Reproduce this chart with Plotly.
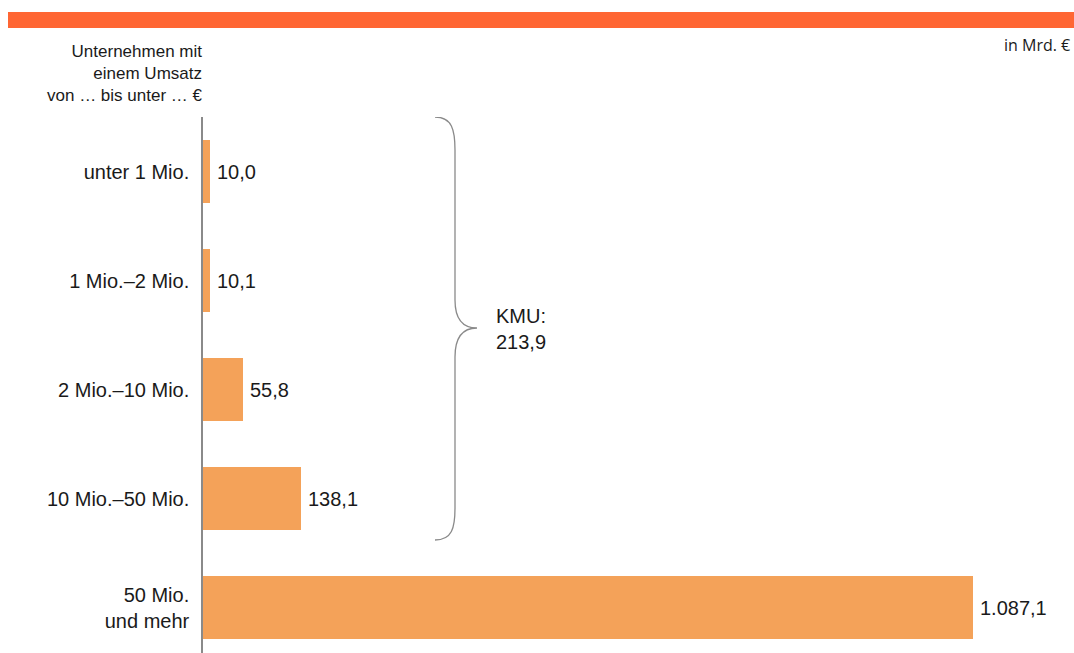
import plotly.graph_objects as go

categories = ["unter 1 Mio.", "1 Mio.–2 Mio.", "2 Mio.–10 Mio.", "10 Mio.–50 Mio.", "50 Mio.<br>und mehr"]
values = [10.0, 10.1, 55.8, 138.1, 1087.1]
kmu_total = 213.9

W, H = 1074, 653
L, T = 203, 117
PX_PER_UNIT = 770 / 1087.1
ROW = 109
XMAX = (W - L) / PX_PER_UNIT
YMAX = (H - T) / ROW - 0.5

BAR = "#F4A259"
HEAD = "#FF6633"
TXT = "#1a1a1a"
FONT = "Liberation Sans, Arial, sans-serif"


def de(v):
    s = f"{v:,.1f}"
    return s.replace(",", "X").replace(".", ",").replace("X", ".")


def px2x(px):
    return (px - L) / PX_PER_UNIT


def py2y(py):
    return (py - T) / ROW - 0.5


ypos = list(range(len(categories)))

fig = go.Figure()
fig.add_trace(go.Bar(
    x=values, y=ypos, orientation="h", width=0.58,
    marker=dict(color=BAR, line=dict(width=0)),
    hoverinfo="skip",
))

annotations = []
for v, y in zip(values, ypos):
    annotations.append(dict(
        x=v, y=y, xref="x", yref="y", text=de(v), showarrow=False,
        xanchor="left", yanchor="middle", xshift=5,
        font=dict(family=FONT, size=20, color=TXT),
    ))

# KMU label
annotations.append(dict(
    x=px2x(494), y=py2y(329), xref="x", yref="y",
    text="KMU:<br>" + de(kmu_total), showarrow=False, align="left",
    xanchor="left", yanchor="middle",
    font=dict(family=FONT, size=20, color=TXT),
))

# header left
annotations.append(dict(
    x=(205 - L) / (W - L), y=1 + (T - 73) / (H - T), xref="paper", yref="paper",
    text="Unternehmen mit<br>einem Umsatz<br>von … bis unter … €",
    showarrow=False, align="right", xanchor="right", yanchor="middle",
    font=dict(family=FONT, size=17, color=TXT),
))

# unit label
annotations.append(dict(
    x=(1072 - L) / (W - L), y=1 + (T - 45) / (H - T), xref="paper", yref="paper",
    text="in Mrd. €", showarrow=False, xanchor="right", yanchor="middle",
    font=dict(family="Open Sans, sans-serif", size=16, color=TXT),
))

# brace path (data coords)
def P(px, py):
    return f"{px2x(px)},{py2y(py)}"

brace = (
    f"M {P(435,117)} "
    f"C {P(452,117)} {P(455,130)} {P(455,150)} "
    f"L {P(455,300)} "
    f"C {P(455,318)} {P(462,328)} {P(477,328)} "
    f"C {P(462,328)} {P(455,338)} {P(455,357)} "
    f"L {P(455,508)} "
    f"C {P(455,528)} {P(452,540)} {P(435,540)}"
)

shapes = [
    dict(type="path", path=brace, xref="x", yref="y",
         line=dict(color="#8a8a8a", width=1.3)),
    dict(type="rect", xref="paper", yref="paper",
         x0=(8 - L) / (W - L), x1=1.0,
         y0=1 + (T - 28) / (H - T), y1=1 + (T - 12) / (H - T),
         fillcolor=HEAD, line=dict(width=0), layer="above"),
]

fig.update_layout(
    width=W, height=H,
    margin=dict(l=L, r=0, t=T, b=0, pad=0),
    paper_bgcolor="white", plot_bgcolor="white",
    showlegend=False,
    bargap=0,
    annotations=annotations,
    shapes=shapes,
    xaxis=dict(range=[0, XMAX], showgrid=False, zeroline=False,
               showticklabels=False, showline=False, fixedrange=True),
    yaxis=dict(range=[YMAX, -0.5], tickvals=ypos, ticktext=categories,
               showgrid=False, zeroline=False, showline=True,
               linecolor="#8a8a8a", linewidth=1.5, ticks="",
               ticklabelstandoff=8,
               tickfont=dict(family=FONT, size=20, color=TXT),
               fixedrange=True),
)

fig.write_html("out.html", config={"displayModeBar": False})
